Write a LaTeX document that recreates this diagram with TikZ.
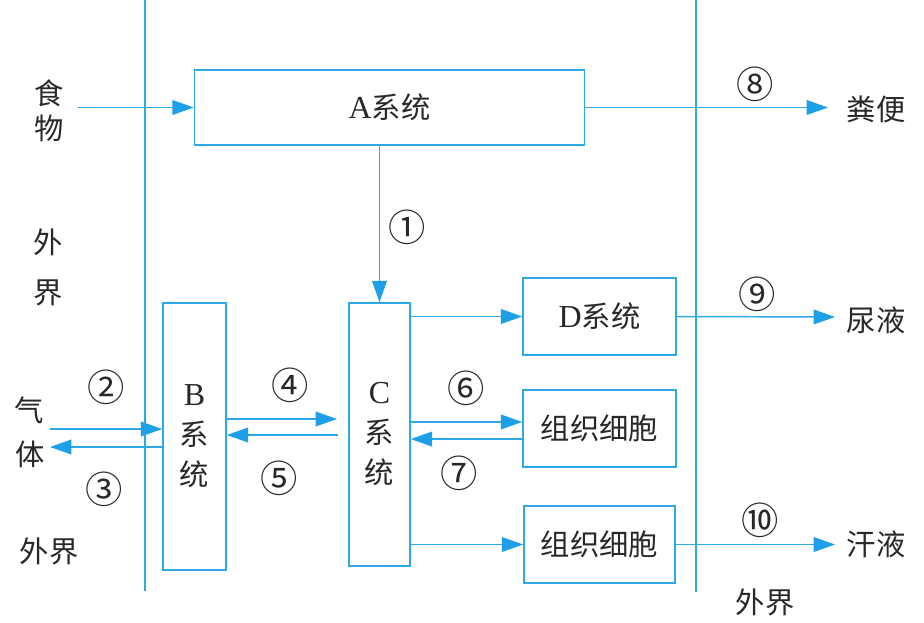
\documentclass[tikz,border=0pt]{standalone}
\usepackage{fontspec}
\newfontfamily\cjk{Noto Sans CJK SC}
\newfontfamily\latf{Liberation Serif}
\usetikzlibrary{arrows.meta}
\definecolor{lblue}{RGB}{45,170,228}
\definecolor{tipblue}{RGB}{30,160,232}
\definecolor{ink}{RGB}{40,40,40}
\newcommand{\lat}[1]{{\latf\fontsize{24}{30}\selectfont #1}}
\tikzset{
  box/.style={draw=lblue, line width=1.1pt, inner sep=0pt, align=center, text=ink,
    font=\fontsize{22}{30}\selectfont},
  arr/.style={draw=lblue, line width=1.1pt, -{Triangle[length=16pt,width=11pt,color=tipblue]}},
  vline/.style={draw=lblue, line width=1.1pt},
  lbl/.style={inner sep=0pt, text=ink, font=\fontsize{22}{26}\selectfont\cjk},
  num/.style={inner sep=0pt, text=ink, font=\fontsize{28}{30}\selectfont\cjk}
}
\begin{document}
\begin{tikzpicture}[x=0.75pt,y=-0.75pt]
\useasboundingbox (0,0) rectangle (924,622);
% boundary lines
\coordinate (L1) at (145,0); \coordinate (L2) at (145,591);
\coordinate (R1) at (696,0); \coordinate (R2) at (696,592);
\draw[vline] (L1) -- (L2);
\draw[vline] (R1) -- (R2);
% boxes
\node[box, minimum width=292.5pt, minimum height=56.25pt] (A) at (389.5,107.5) {\lat{A}{\cjk 系统}};
\node[box, minimum width=47.25pt, minimum height=200.25pt] (B) at (194.5,436.5) {\lat{B}\\{\cjk 系}\\{\cjk 统}};
\node[box, minimum width=45.75pt, minimum height=197.25pt] (C) at (379.5,434.5) {\lat{C}\\{\cjk 系}\\{\cjk 统}};
\node[box, minimum width=114.75pt, minimum height=57.75pt] (D) at (599.5,316.5) {\lat{D}{\cjk 系统}};
\node[box, minimum width=114.75pt, minimum height=57.75pt] (T1) at (599.5,428.5) {\cjk 组织细胞};
\node[box, minimum width=113.25pt, minimum height=57.75pt] (T2) at (599.5,544.5) {\cjk 组织细胞};
% outer labels
\node[lbl] (shi) at (49,93) {食};
\node[lbl] (wu) at (49,128) {物};
\node[lbl] (wai1) at (48,242) {外};
\node[lbl] (jie1) at (48,293) {界};
\node[lbl] (qi) at (29,410) {气};
\node[lbl] (ti) at (30,454) {体};
\node[lbl] (waijie2) at (49,551) {外界};
\node[lbl] (waijie3) at (765,602) {外界};
\node[lbl] (fen) at (876,109) {粪便};
\node[lbl] (niao) at (876,320) {尿液};
\node[lbl] (han) at (876,544) {汗液};
% numbers
\node[num] (n1) at (407,227) {①};
\node[num] (n2) at (106,387) {②};
\node[num] (n3) at (104,489) {③};
\node[num] (n4) at (290,385) {④};
\node[num] (n5) at (279,478) {⑤};
\node[num] (n6) at (466,388) {⑥};
\node[num] (n7) at (459,473) {⑦};
\node[num] (n8) at (755,84) {⑧};
\node[num] (n9) at (757,294) {⑨};
\node[num] (n10) at (760,520) {⑩};
% connectors
\coordinate (fs) at (78,107.5);
\draw[arr] (fs) -- (A.west);
\coordinate (e8) at (828,107.5);
\draw[arr] (A.east) -- (e8);
\draw[arr] (C.north |- A.south) -- (C.north);
\coordinate (g2) at (50,429);
\draw[arr] (g2) -- (B.west |- g2);
\coordinate (g3) at (50,447);
\draw[arr] (B.west |- g3) -- (g3);
\coordinate (e4) at (337,419);
\draw[arr] (B.east |- e4) -- (e4);
\coordinate (s5) at (338,435);
\draw[arr] (s5) -- (B.east |- s5);
\draw[arr] (C.east |- D.west) -- (D.west);
\coordinate (t1a) at ([yshift=4.9pt]T1.west);
\draw[arr] (C.east |- t1a) -- (t1a);
\coordinate (t1b) at ([yshift=-7.9pt]T1.west);
\draw[arr] (t1b) -- (C.east |- t1b);
\draw[arr] (C.east |- T2.west) -- (T2.west);
\coordinate (e9) at (835,317);
\draw[arr] (D.east) -- (e9);
\coordinate (e10) at (835,544.5);
\draw[arr] (T2.east) -- (e10);
\end{tikzpicture}
\end{document}
